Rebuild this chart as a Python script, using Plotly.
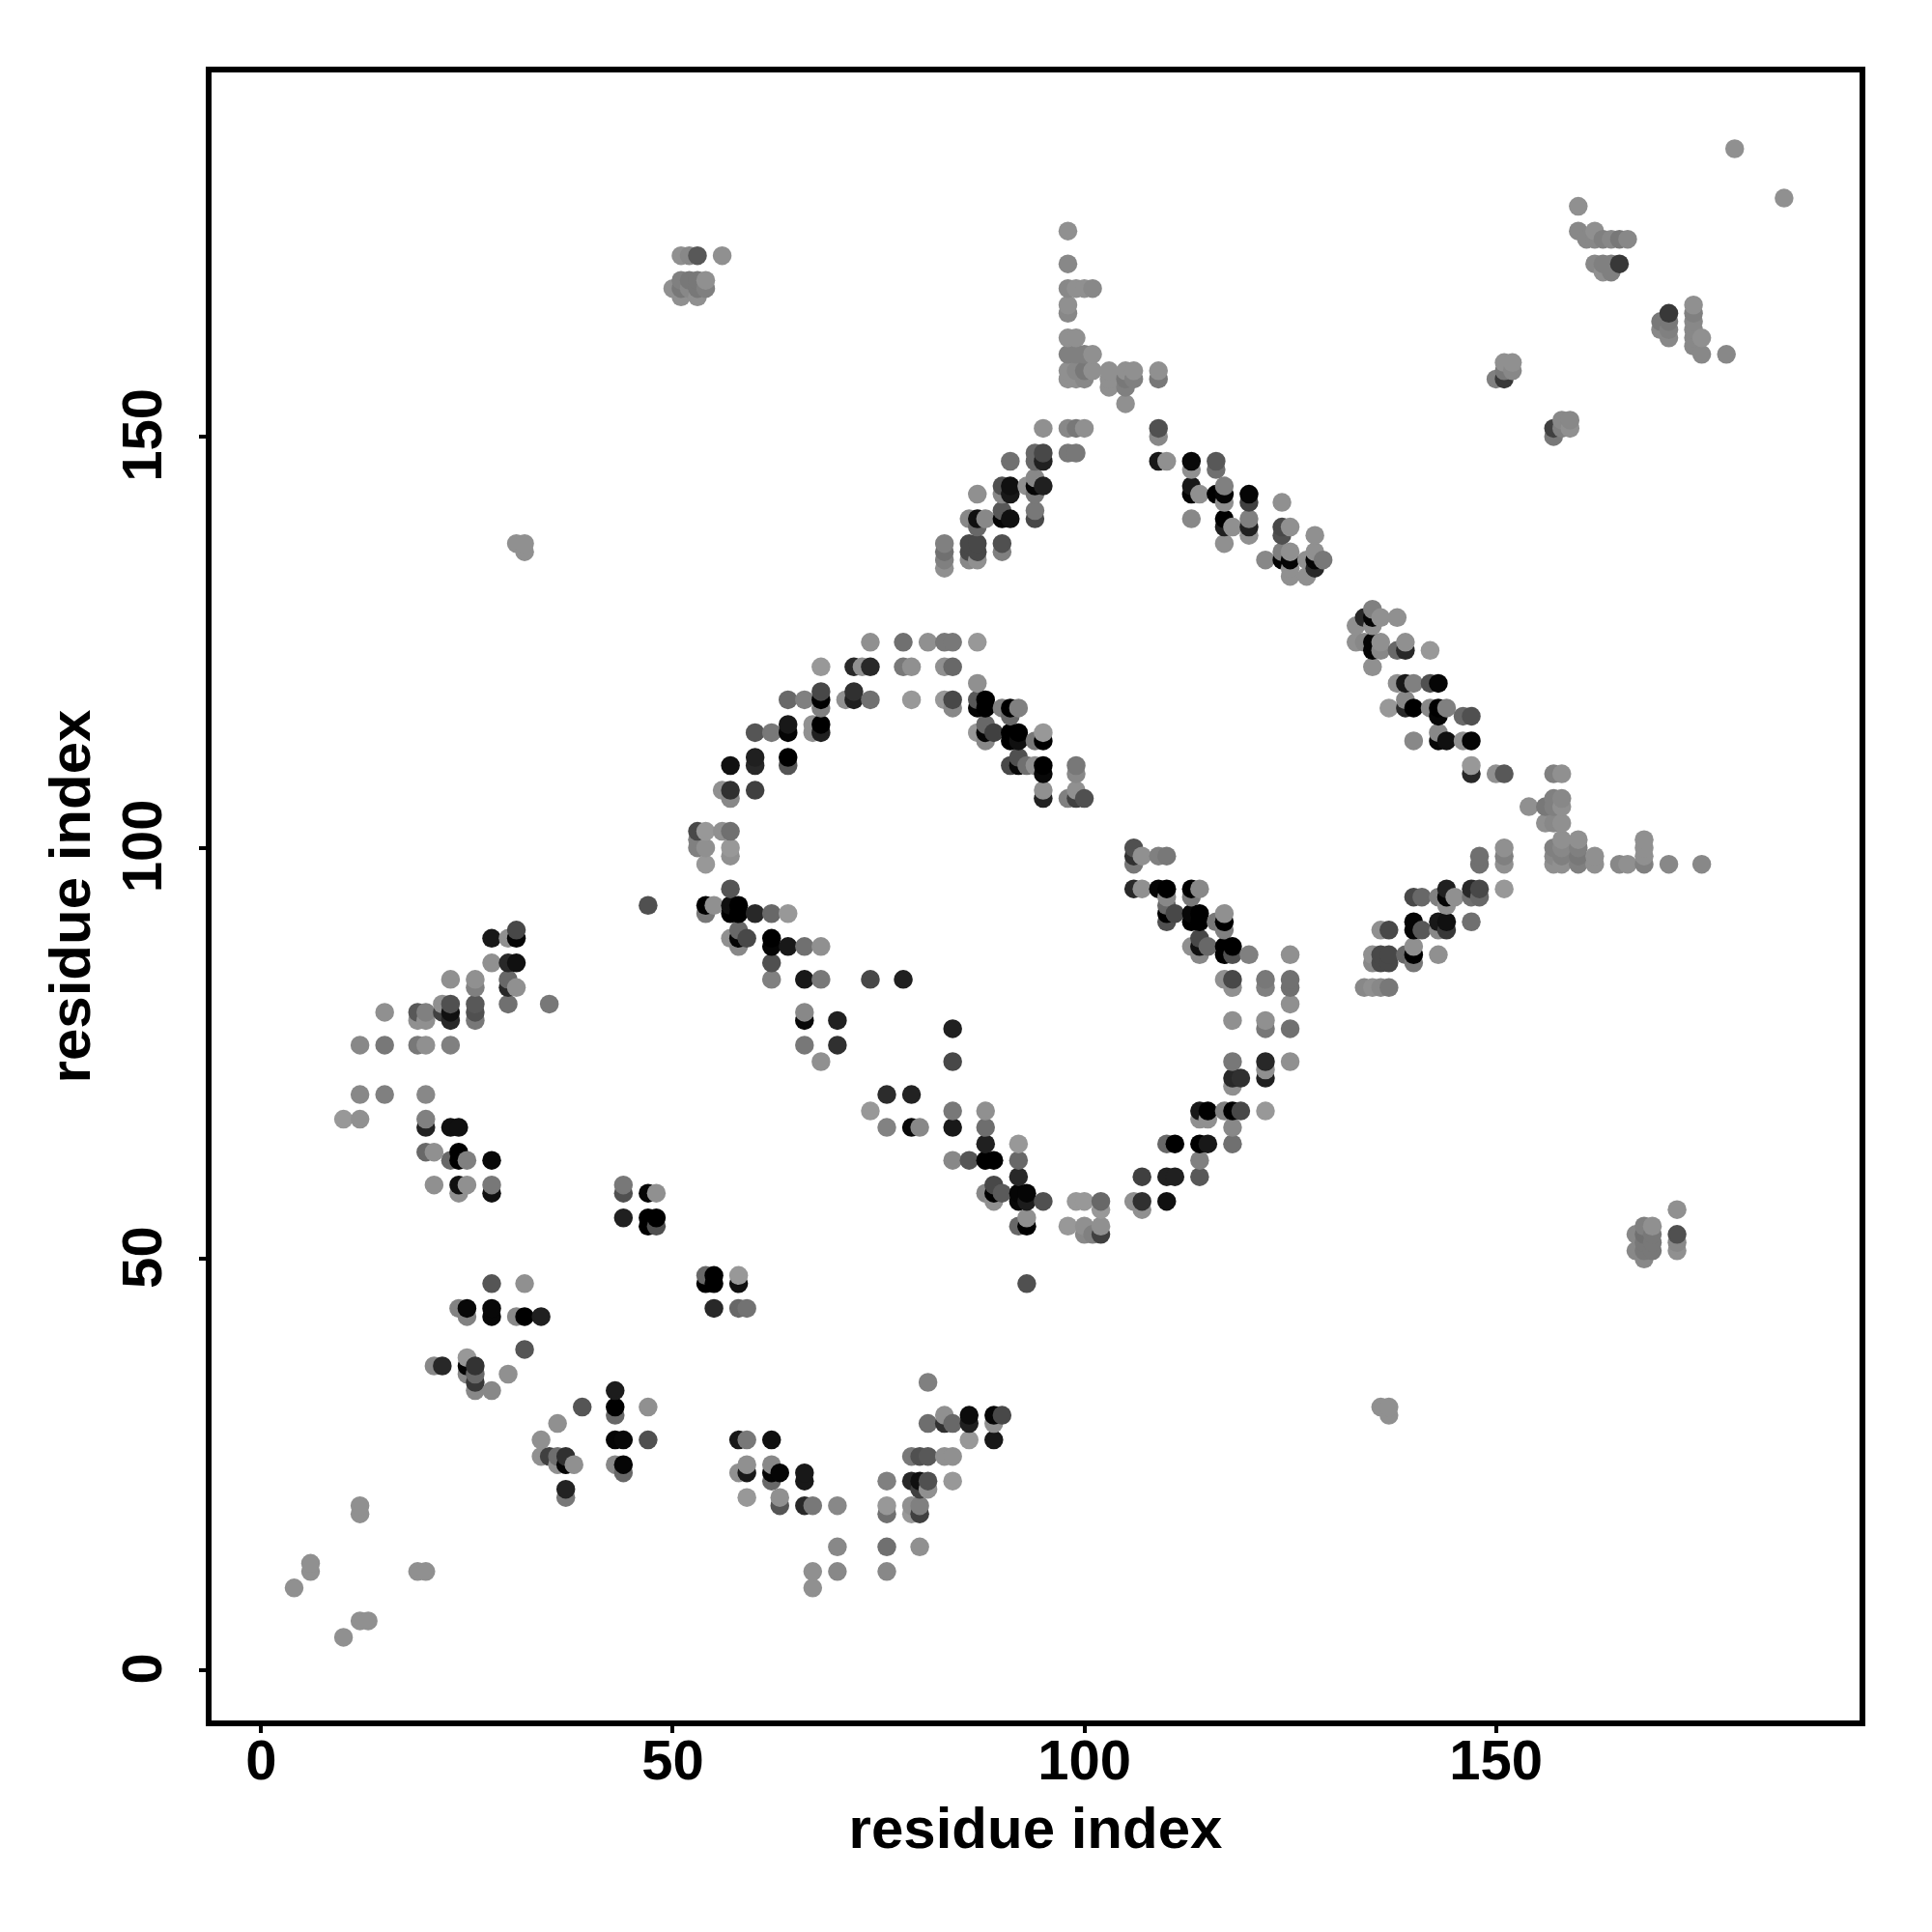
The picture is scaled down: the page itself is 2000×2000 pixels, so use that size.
import plotly.graph_objects as go

# (residue i, residue j, grey level)
contacts_corner = [
 (10,4,0x88),(12,6,0x88),(13,6,0x88),(4,10,0x88),(6,13,0x88),(6,12,0x88),(19,12,0x88),(20,12,0x88),(12,20,0x88),(12,19,0x88),
 (67,12,0x88),(67,10,0x88),(70,12,0x80),(76,12,0x80),(70,15,0x80),(76,15,0x68),(80,15,0x88),
]
contacts_a = [
 (28,47,0x55),(32,47,0x88),(24,44,0x7a),(25,44,0x08),(25,43,0x7a),(28,44,0x08),(28,43,0x08),(31,43,0x80),(32,43,0x00),(34,43,0x20),
 (32,39,0x55),(30,36,0x88),(21,37,0x80),(22,37,0x28),(25,38,0x90),(25,37,0x05),(25,36,0x80),(26,37,0x33),(26,36,0x60),(26,35,0x38),(26,34,0x80),(28,34,0x80),
 (39,32,0x55),(36,30,0x88),(34,28,0x88),(34,26,0x88),(35,26,0x40),(36,26,0x66),(36,25,0x88),(37,26,0x30),(37,25,0x05),(38,25,0x88),(37,22,0x22),(37,21,0x70),
 (43,34,0x1c),(43,32,0x00),(43,31,0x60),(47,32,0x88),(43,28,0x05),(44,28,0x08),(47,28,0x50),(43,25,0x80),(44,25,0x05),(44,24,0x60),
]
contacts_b = [
 (76,70,0x2c),(79,70,0x22),(74,68,0x90),(76,66,0x7a),(79,66,0x08),(80,66,0x80),(84,68,0x70),(84,66,0x18),(88,68,0x88),(88,66,0x66),(88,64,0x20),
 (84,62,0x80),(86,62,0x55),(88,62,0x00),(89,62,0x00),(92,64,0x90),(92,62,0x60),(92,60,0x28),(92,58,0x05),(92,57,0x08),(93,58,0x05),(93,57,0x1c),(95,57,0x50),
 (88,58,0x80),(89,59,0x48),(89,58,0x00),(89,57,0x88),(90,58,0x5a),(92,54,0x60),(93,55,0x88),(93,54,0x00),
 (98,54,0x90),(99,57,0x90),(100,57,0x90),(100,54,0x88),(100,53,0x80),(101,53,0x78),(102,57,0x60),(102,56,0x90),(102,54,0x88),(102,53,0x40),
 (106,57,0x88),(107,60,0x40),(107,57,0x30),(107,56,0x88),(93,47,0x50),
 (54,48,0x60),(55,48,0x00),(54,47,0x00),(55,47,0x00),(58,48,0x90),(58,47,0x10),(55,44,0x28),(58,44,0x60),(59,44,0x6a),
 (81,35,0x78),(81,30,0x66),(83,31,0x88),(83,30,0x30),(84,30,0x60),(86,31,0x0c),(86,30,0x20),(86,28,0x90),(89,31,0x05),(89,30,0x88),(89,28,0x18),(90,31,0x48),
 (58,28,0x18),(59,28,0x70),(62,28,0x10),(79,26,0x70),(80,26,0x50),(81,26,0x58),(83,26,0x88),(84,26,0x88),
 (58,24,0x88),(59,25,0x88),(59,24,0x18),(62,25,0x80),(62,24,0x05),(62,23,0x60),(63,24,0x05),(66,24,0x18),(66,23,0x18),
 (59,21,0x90),(63,21,0x88),(63,20,0x55),(66,20,0x28),(67,20,0x70),(70,20,0x80),(76,23,0x78),(76,20,0x90),(76,19,0x68),
 (79,23,0x28),(80,23,0x10),(81,23,0x50),(80,22,0x40),(81,22,0x88),(84,23,0x90),(79,20,0x88),(79,19,0x90),(80,20,0x78),(80,19,0x40),
]
contacts_c = [
 (28,89,0x18),(30,89,0x88),(31,90,0x48),(31,89,0x05),(28,86,0x88),(30,86,0x28),(31,86,0x10),(30,84,0x60),(30,83,0x28),(31,83,0x88),(30,81,0x68),(35,81,0x70),
 (23,84,0x88),(26,84,0x88),(26,83,0x78),(26,81,0x58),(26,80,0x50),(26,79,0x70),(22,81,0x88),(22,80,0x40),(23,81,0x50),(23,80,0x10),(23,79,0x28),
 (19,80,0x58),(19,79,0x88),(20,80,0x78),(20,79,0x88),(15,80,0x88),(12,76,0x80),(15,76,0x70),(19,76,0x70),(20,76,0x88),(23,76,0x78),
 (12,70,0x80),(15,70,0x78),(20,70,0x80),(10,67,0x90),(12,67,0x88),(20,67,0x78),(20,66,0x22),(23,66,0x10),(24,66,0x10),
 (20,63,0x60),(21,63,0x88),(23,62,0x60),(24,63,0x00),(24,62,0x00),(25,62,0x78),(28,62,0x08),(21,59,0x88),(24,59,0x10),(24,58,0x88),(25,59,0x88),(28,59,0x70),(28,58,0x10),
 (44,59,0x70),(44,58,0x50),(47,58,0x05),(48,58,0x88),(44,55,0x20),(47,55,0x00),(47,54,0x00),(48,55,0x00),(48,54,0x50),(47,93,0x50),
]
contacts_d = [
 (74,125,0x88),(78,125,0x68),(81,125,0x88),(83,125,0x70),(84,125,0x70),(87,125,0x90),
 (68,122,0x90),(72,122,0x28),(73,122,0x88),(74,122,0x28),(78,122,0x70),(79,122,0x88),(83,122,0x88),(84,122,0x60),
 (87,120,0x88),(68,119,0x48),(72,119,0x30),(64,118,0x60),(66,118,0x78),(68,118,0x00),(68,117,0x78),(71,118,0x88),(72,118,0x20),(74,118,0x68),(79,118,0x90),(83,118,0x90),(84,118,0x48),(84,117,0x80),
 (87,118,0x58),(88,118,0x00),(87,117,0x05),(88,117,0x00),(90,117,0x78),(91,117,0x00),(92,117,0x78),(91,116,0x60),
 (88,115,0x60),(87,114,0x90),(88,114,0x05),(88,113,0x80),(89,114,0x40),(91,114,0x00),(92,114,0x00),(91,113,0x00),(92,113,0x10),(94,113,0x70),(95,114,0x90),(95,113,0x00),
 (92,111,0x50),(91,110,0x48),(92,110,0x08),(93,110,0x68),(94,110,0x88),(95,110,0x00),(95,109,0x08),(95,107,0x88),(95,106,0x22),
 (99,110,0x70),(99,109,0x80),(99,107,0x88),(98,106,0x78),(99,106,0x40),(100,106,0x50),
 (64,115,0x18),(64,114,0x05),(60,114,0x55),(62,114,0x70),(67,115,0x88),(67,114,0x88),(68,115,0x00),(68,114,0x20),
 (57,110,0x10),(60,111,0x20),(60,110,0x28),(64,111,0x00),(64,110,0x55),(56,107,0x88),(57,107,0x30),(57,106,0x80),(60,107,0x40),
 (53,102,0x48),(54,102,0x90),(56,102,0x88),(57,102,0x68),(53,101,0x78),(53,100,0x78),(54,100,0x88),(57,100,0x90),(57,99,0x88),(54,98,0x90),
 (57,95,0x55),(54,93,0x00),(54,92,0x70),(55,93,0x88),(57,93,0x10),(58,93,0x00),(57,92,0x00),(58,92,0x00),(60,92,0x28),(62,92,0x60),(64,92,0x90),
 (57,89,0x88),(58,90,0x60),(58,89,0x05),(58,88,0x80),(59,89,0x48),(62,89,0x00),(62,88,0x05),(64,88,0x18),(66,88,0x68),(68,88,0x88),
 (62,86,0x50),(62,84,0x78),(66,84,0x18),(68,84,0x70),(74,84,0x48),(78,84,0x20),(66,80,0x80),(66,79,0x08),(70,79,0x20),(66,76,0x70),(70,76,0x30),(68,74,0x88),(84,78,0x20),(84,74,0x48),
]
contacts_e = [
 (106,100,0x50),(106,99,0x30),(106,98,0x70),(107,99,0x88),(109,99,0x78),(110,99,0x70),(106,95,0x28),(107,95,0x88),(109,95,0x05),(110,95,0x00),(113,95,0x00),(114,95,0x80),(113,94,0x70),
 (110,94,0x80),(110,93,0x60),(110,92,0x00),(110,91,0x50),(111,92,0x48),(113,92,0x08),(114,92,0x00),(113,91,0x00),(114,91,0x00),(116,91,0x70),(117,92,0x88),(117,91,0x00),(117,90,0x78),
 (114,89,0x48),(113,88,0x88),(114,88,0x10),(114,87,0x80),(115,88,0x60),(117,88,0x00),(117,87,0x00),(118,88,0x00),(118,87,0x50),(120,87,0x78),(125,87,0x88),
 (117,84,0x88),(118,84,0x48),(118,83,0x88),(122,84,0x70),(122,83,0x78),(125,84,0x68),(125,83,0x68),(125,81,0x88),(118,79,0x88),(122,79,0x88),(122,78,0x70),(125,78,0x68),
 (118,74,0x70),(122,74,0x28),(122,73,0x88),(122,72,0x20),(125,74,0x88),(118,72,0x28),(119,72,0x30),(118,71,0x88),
 (114,68,0x18),(115,68,0x00),(114,67,0x88),(115,67,0x88),(117,68,0x78),(118,68,0x00),(119,68,0x48),(122,68,0x90),(118,66,0x80),(118,64,0x68),
 (110,64,0x60),(111,64,0x00),(114,64,0x00),(115,64,0x18),(114,62,0x78),(114,60,0x58),(110,60,0x20),(111,60,0x20),(110,57,0x10),
 (148,99,0x68),(148,98,0x68),(151,100,0x88),(151,99,0x78),(151,98,0x88),(151,95,0x90),(148,95,0x48),(147,95,0x28),(147,94,0x68),(148,94,0x60),
 (144,95,0x20),(144,94,0x05),(144,93,0x88),(143,94,0x78),(145,94,0x88),(140,94,0x48),(141,94,0x60),(140,91,0x05),(140,90,0x05),(141,90,0x58),
 (143,91,0x18),(144,91,0x10),(143,90,0x80),(144,90,0x38),(147,91,0x68),(136,90,0x88),(137,90,0x48),(135,87,0x88),(135,86,0x80),(136,87,0x48),(137,87,0x48),(136,86,0x48),(137,86,0x48),
 (139,87,0x60),(140,88,0x88),(140,87,0x00),(140,86,0x70),(143,87,0x88),(134,83,0x80),(135,83,0x88),(136,83,0x80),(137,83,0x70),
]
contacts_f = [
 (135,129,0x78),(134,128,0x28),(135,128,0x05),(136,128,0x88),(138,128,0x88),(133,127,0x88),(135,127,0x88),(133,125,0x88),(134,125,0x80),(135,125,0x05),(135,124,0x05),(136,125,0x88),(136,124,0x80),
 (135,122,0x88),(138,124,0x60),(139,125,0x88),(139,124,0x28),(142,124,0x90),(138,120,0x88),(139,120,0x18),(140,120,0x78),(142,120,0x50),(143,120,0x05),
 (137,117,0x90),(139,118,0x80),(139,117,0x28),(140,117,0x00),(142,117,0x80),(143,117,0x00),(143,116,0x05),(144,117,0x78),(146,116,0x60),(147,116,0x50),
 (140,113,0x80),(143,114,0x80),(143,113,0x08),(144,113,0x10),(146,113,0x88),(147,113,0x05),(147,110,0x90),(147,109,0x28),(150,109,0x88),(151,109,0x58),(157,109,0x78),(158,109,0x88),
 (154,105,0x88),(156,105,0x70),(157,106,0x78),(158,106,0x80),(157,105,0x78),(158,105,0x88),(156,103,0x88),(157,103,0x80),(158,103,0x88),(158,101,0x88),(160,101,0x88),
 (157,100,0x78),(157,99,0x80),(157,98,0x88),(158,100,0x80),(158,99,0x78),(158,98,0x88),(160,100,0x78),(160,99,0x70),(160,98,0x78),(162,99,0x88),(162,98,0x88),
 (165,98,0x80),(166,98,0x88),(168,101,0x88),(168,100,0x88),(168,99,0x88),(168,98,0x78),(171,98,0x80),(175,98,0x80),
]
contacts_g = [
 (98,175,0x88),(98,171,0x80),(98,168,0x80),(99,168,0x88),(100,168,0x88),(101,168,0x80),(98,166,0x88),(98,165,0x80),(98,162,0x88),(99,162,0x88),
 (98,160,0x78),(99,160,0x78),(100,160,0x78),(101,160,0x88),(98,158,0x88),(99,158,0x80),(100,158,0x70),(101,158,0x88),(98,157,0x88),(99,157,0x88),(100,157,0x80),
 (103,158,0x88),(103,157,0x88),(103,156,0x88),(105,158,0x88),(105,157,0x70),(105,156,0x78),(106,158,0x88),(106,157,0x78),(105,154,0x88),(109,158,0x88),(109,157,0x70),
 (95,151,0x88),(98,151,0x80),(99,151,0x70),(100,151,0x88),(98,148,0x70),(99,148,0x70),(109,151,0x50),(109,150,0x80),(109,147,0x18),(110,147,0x88),(113,147,0x08),(113,146,0x88),(116,147,0x58),(116,146,0x68),
 (94,148,0x60),(95,148,0x48),(94,147,0x60),(95,147,0x20),(91,147,0x68),(94,145,0x80),(93,144,0x88),(94,144,0x05),(95,144,0x20),(94,143,0x70),(90,144,0x50),(91,144,0x10),(90,143,0x80),(91,143,0x18),(87,143,0x88),
 (94,141,0x70),(94,140,0x48),(90,141,0x58),(90,140,0x05),(91,140,0x10),(86,140,0x80),(87,140,0x10),(88,140,0x80),(87,139,0x60),(90,137,0x50),(90,136,0x78),
 (86,137,0x48),(87,137,0x48),(86,136,0x48),(87,136,0x48),(86,135,0x80),(87,135,0x88),(83,137,0x78),(83,136,0x68),(83,135,0x78),(83,134,0x88),
 (113,144,0x18),(113,143,0x05),(114,143,0x88),(113,140,0x80),(116,143,0x00),(117,144,0x78),(117,143,0x05),(117,142,0x88),(120,143,0x05),(120,142,0x40),(120,140,0x78),(120,139,0x20),(120,138,0x88),
 (117,140,0x00),(117,139,0x20),(118,139,0x88),(117,137,0x88),(124,142,0x88),(124,139,0x48),(124,138,0x50),(125,139,0x88),(122,135,0x80),(124,136,0x78),(124,135,0x05),(125,136,0x88),(125,135,0x05),(125,134,0x88),(125,133,0x88),
 (127,135,0x88),(127,133,0x88),(128,138,0x88),(128,136,0x88),(128,135,0x05),(128,134,0x28),(129,135,0x70),
]
contacts_h = [
 (179,185,0x88),(185,179,0x88),(160,178,0x88),(160,175,0x80),(162,175,0x88),(161,174,0x80),(162,174,0x80),(163,174,0x78),(164,174,0x80),(165,174,0x70),(166,174,0x80),
 (162,171,0x80),(163,171,0x78),(164,171,0x78),(165,171,0x38),(163,170,0x88),(164,170,0x78),(170,164,0x70),(170,163,0x80),(171,165,0x38),(171,164,0x70),(171,163,0x78),(171,162,0x80),
 (174,166,0x88),(174,165,0x78),(174,164,0x80),(174,163,0x80),(174,162,0x80),(174,161,0x80),(175,162,0x88),(175,160,0x80),(178,160,0x80),
 (150,157,0x78),(151,157,0x38),(151,158,0x70),(151,159,0x88),(152,159,0x88),(152,158,0x80),(157,150,0x70),(157,151,0x40),(158,152,0x80),(159,152,0x80),(158,151,0x78),(159,151,0x88),
 (51,172,0x88),(52,172,0x80),(53,172,0x58),(56,172,0x88),(50,168,0x88),(51,169,0x78),(51,168,0x70),(51,167,0x88),(52,169,0x70),(52,168,0x80),(53,169,0x70),(53,168,0x70),(53,167,0x88),(54,169,0x88),(54,168,0x78),
 (172,56,0x88),(172,53,0x50),(172,52,0x80),(172,51,0x88),(167,53,0x80),(167,51,0x80),(168,54,0x78),(168,53,0x68),(168,52,0x70),(168,51,0x70),(168,50,0x80),(169,54,0x88),(169,53,0x70),(169,52,0x70),(169,51,0x70),
 (136,32,0x88),(137,32,0x88),(137,31,0x88),(31,137,0x88),(32,137,0x88),(32,136,0x88),
]
tick_vals = [0, 50, 100, 150]
axis_title = "residue index"

merged = {}
for part in (contacts_corner, contacts_a, contacts_b, contacts_c, contacts_d, contacts_e, contacts_f, contacts_g, contacts_h):
    for i, j, g in part:
        merged[(i, j)] = g
order = sorted(merged)          # later residues are painted over earlier ones
res_i = [p[0] for p in order]
res_j = [p[1] for p in order]

def grey(level):
    v = level + 8 if level >= 0x60 else level
    return f"rgb({v},{v},{v})"

fig = go.Figure(go.Scatter(x=res_i, y=res_j, mode="markers",
                           marker=dict(size=19.5, color=[grey(merged[p]) for p in order], line=dict(width=0)),
                           hoverinfo="skip"))
font_tick = dict(family="Liberation Sans", size=58, color="black", weight="bold")
font_title = dict(family="Liberation Sans", size=60, color="black", weight="bold")
axis_common = dict(showgrid=False, zeroline=False, showline=True, mirror=True, linecolor="black", linewidth=6,
                   ticks="outside", ticklen=7, tickwidth=4, tickcolor="black", tickvals=tick_vals,
                   tickfont=font_tick)
fig.update_xaxes(range=[-6.03, 194.17], ticklabelstandoff=-22,
                 title=dict(text=axis_title, font=font_title, standoff=20), **axis_common)
fig.update_yaxes(range=[-6.11, 194.28], tickangle=-90, ticklabelstandoff=16, ticklabelshift=7,
                 title=dict(text=axis_title, font=font_title, standoff=3), **axis_common)
fig.update_layout(width=2000, height=2000, autosize=False, showlegend=False, paper_bgcolor="white", plot_bgcolor="white",
                  margin=dict(l=211.3, r=83, t=67, b=227.3, autoexpand=False))
fig.write_html("out.html")
